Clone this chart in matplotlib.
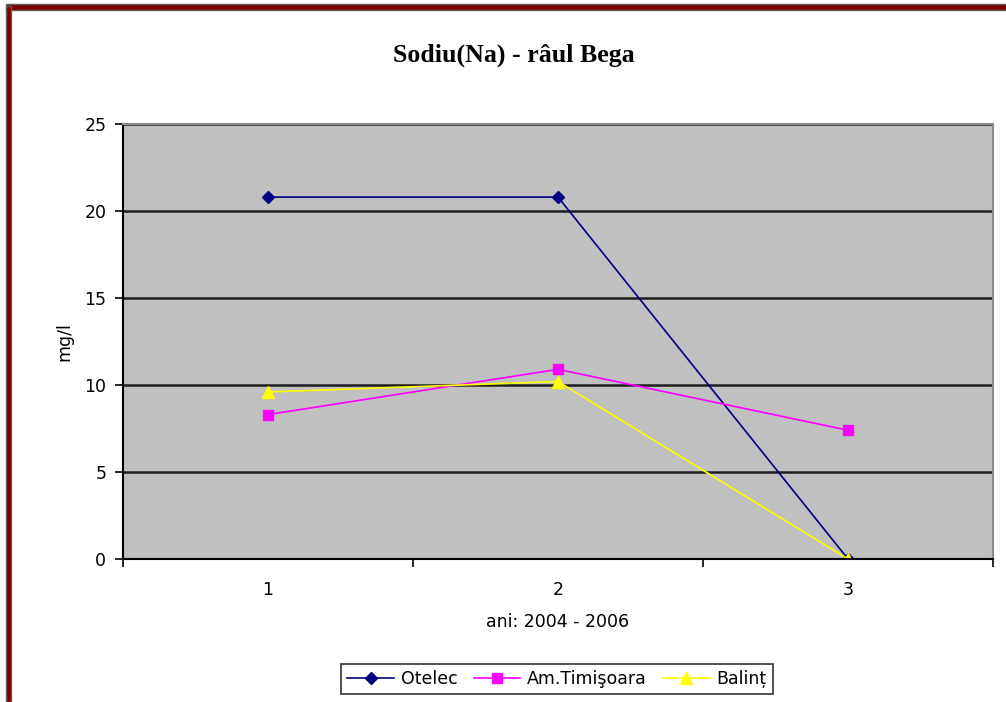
import matplotlib
matplotlib.use("Agg")
import matplotlib.pyplot as plt
from matplotlib.patches import Rectangle
from matplotlib.ticker import FixedLocator, NullFormatter

# Data
categories = [1, 2, 3]
otelec = [20.8, 20.8, 0.0]
timisoara = [8.3, 10.9, 7.4]
balint = [9.6, 10.2, 0.0]
series_names = ["Otelec", "Am.Timişoara", "Balinț"]
y_ticks = [0, 5, 10, 15, 20, 25]

fig = plt.figure(figsize=(10.06, 7.02), dpi=100)
fig.patch.set_facecolor("white")

ax = fig.add_axes([123 / 1006, 1 - 559 / 702, 870 / 1006, 435 / 702])
ax.set_facecolor("#C0C0C0")

ax.plot(categories, otelec, color="#000080", lw=1.2, marker="D", ms=6,
        mfc="#000080", mec="#000080", label=series_names[0], zorder=3)
ax.plot(categories, timisoara, color="#FF00FF", lw=1.2, marker="s", ms=7,
        mfc="#FF00FF", mec="#FF00FF", label=series_names[1], zorder=4)
ax.plot(categories, balint, color="#FFFF00", lw=1.2, marker="^", ms=8,
        mfc="#FFFF00", mec="#FFFF00", label=series_names[2], zorder=5)

ax.set_xlim(0.5, 3.5)
ax.set_ylim(0, 25)
ax.set_yticks(y_ticks)
ax.set_xticks(categories)
ax.xaxis.set_minor_locator(FixedLocator([0.5, 1.5, 2.5, 3.5]))
ax.xaxis.set_minor_formatter(NullFormatter())
ax.tick_params(axis="x", which="major", length=0, pad=16, labelsize=12.5)
ax.tick_params(axis="x", which="minor", length=6, width=1.2, color="black", direction="out")
ax.tick_params(axis="y", length=6, width=1.2, color="black", direction="out", pad=6,
               labelsize=12.5)
for lbl in ax.get_xticklabels() + ax.get_yticklabels():
    lbl.set_fontfamily("DejaVu Sans")

ax.yaxis.grid(True, color="#1E1E1E", lw=1.8, zorder=1)
ax.set_axisbelow(True)

for side in ("top", "right"):
    ax.spines[side].set_color("#8C8C8C")
    ax.spines[side].set_linewidth(1.5)
for side in ("left", "bottom"):
    ax.spines[side].set_color("black")
    ax.spines[side].set_linewidth(1.5)
ax.spines["bottom"].set_zorder(6)

ax.set_xlabel("ani: 2004 - 2006", fontsize=12.5, family="DejaVu Sans", labelpad=10)
ax.set_ylabel("mg/l", fontsize=12.5, family="DejaVu Sans", labelpad=8)

fig.text(514 / 1006, 1 - 55 / 702, "Sodiu(Na) - râul Bega", ha="center", va="center",
         fontsize=18.6, fontweight="bold", family="Liberation Serif")

leg = fig.legend(loc="center", bbox_to_anchor=(557 / 1006, 1 - 679 / 702), ncol=3,
                 frameon=True, fancybox=False, edgecolor="black",
                 handlelength=2.7, handletextpad=0.4, columnspacing=0.9,
                 borderpad=0.35, prop={"family": "DejaVu Sans", "size": 12.5})
leg.get_frame().set_linewidth(1.2)

# Outer frame of the chart sheet: dark red top and left edges
fig.add_artist(Rectangle((6 / 1006, 1 - 10 / 702), 1.0, 6 / 702, transform=fig.transFigure,
                         facecolor="#800000", edgecolor="#606060", lw=1.0, zorder=10))
fig.add_artist(Rectangle((6 / 1006, 0), 5 / 1006, 1 - 6 / 702, transform=fig.transFigure,
                         facecolor="#800000", edgecolor="#606060", lw=1.0, zorder=10))

fig.savefig("out.png", dpi=100, facecolor="white")
